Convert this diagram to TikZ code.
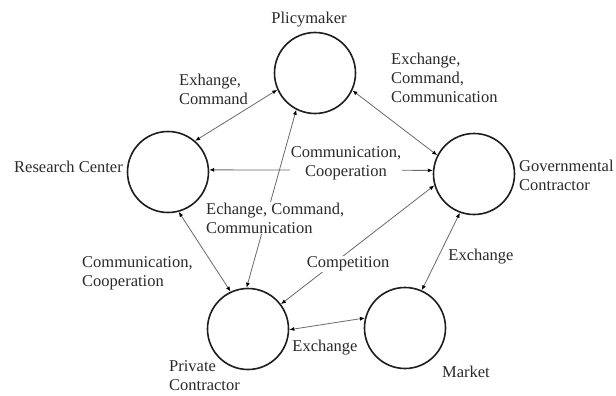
\documentclass[tikz,border=0pt]{standalone}
\usepackage{fontspec}
\setmainfont{Liberation Serif}
\usetikzlibrary{arrows.meta}
\definecolor{txt}{HTML}{2A2A2A}
\definecolor{ring}{HTML}{1E1E1E}
\definecolor{con}{HTML}{6A6A6A}
\tikzset{
  actor/.style={draw=ring, line width=1.6pt, circle, minimum size=81pt, inner sep=0pt},
  lbl/.style={text=txt, font=\fontsize{16.5pt}{19pt}\selectfont, inner sep=1pt},
  conn/.style={draw=con, line width=0.8pt, {Latex[length=5pt,width=4pt,color=black]}-{Latex[length=5pt,width=4pt,color=black]}},
}
\begin{document}
\begin{tikzpicture}[x=1pt, y=-1pt]
\useasboundingbox (0,0) rectangle (616,396);
\fill[white] (0,0) rectangle (616,396);
% actors
\node[actor] (pm) at (315,73) {};
\node[actor] (rc) at (168,172) {};
\node[actor] (gc) at (474,174) {};
\node[actor] (pc) at (248,329) {};
\node[actor] (mk) at (405,328) {};
% actor names
\node[lbl] (pmL) at (309,20) {Plicymaker};
\node[lbl, anchor=east] (rcL) at (124,167) {Research Center};
\node[lbl, anchor=west, align=left] (gcL) at (518,175) {Governmental\\Contractor};
\node[lbl, anchor=west, align=left] (pcL) at (168,376) {Private\\Contractor};
\node[lbl] (mkL) at (466,372) {Market};
% connectors
\draw[conn] (pm.204) -- (rc.49);
\draw[conn] (pm.335) -- (gc.153);
\draw[conn] (pm.243) -- (pc.92);
\draw[conn] (rc.3) -- (gc.175);
\draw[conn] (rc.285) -- (pc.115);
\draw[conn] (gc.196) -- (pc.37);
\draw[conn] (gc.250) -- (mk.66);
\draw[conn] (pc.359) -- (mk.166);
% connector labels
\node[lbl, anchor=west, align=left] (l1) at (178,89) {Exhange,\\Command};
\node[lbl, anchor=west, align=left] (l2) at (390,78) {Exchange,\\Command,\\Communication};
\node[lbl, align=center, fill=white] (l3) at (346,163) {Communication,\\Cooperation};
\node[lbl, anchor=west, align=left, fill=white] (l4) at (205,218) {Echange, Command,\\Communication};
\node[lbl, anchor=west, align=left] (l5) at (81,273) {Communication,\\Cooperation};
\node[lbl, fill=white] (l6) at (348,264) {Competition};
\node[lbl] (l7) at (481,257) {Exchange};
\node[lbl] (l8) at (325,348) {Exchange};
\end{tikzpicture}
\end{document}
